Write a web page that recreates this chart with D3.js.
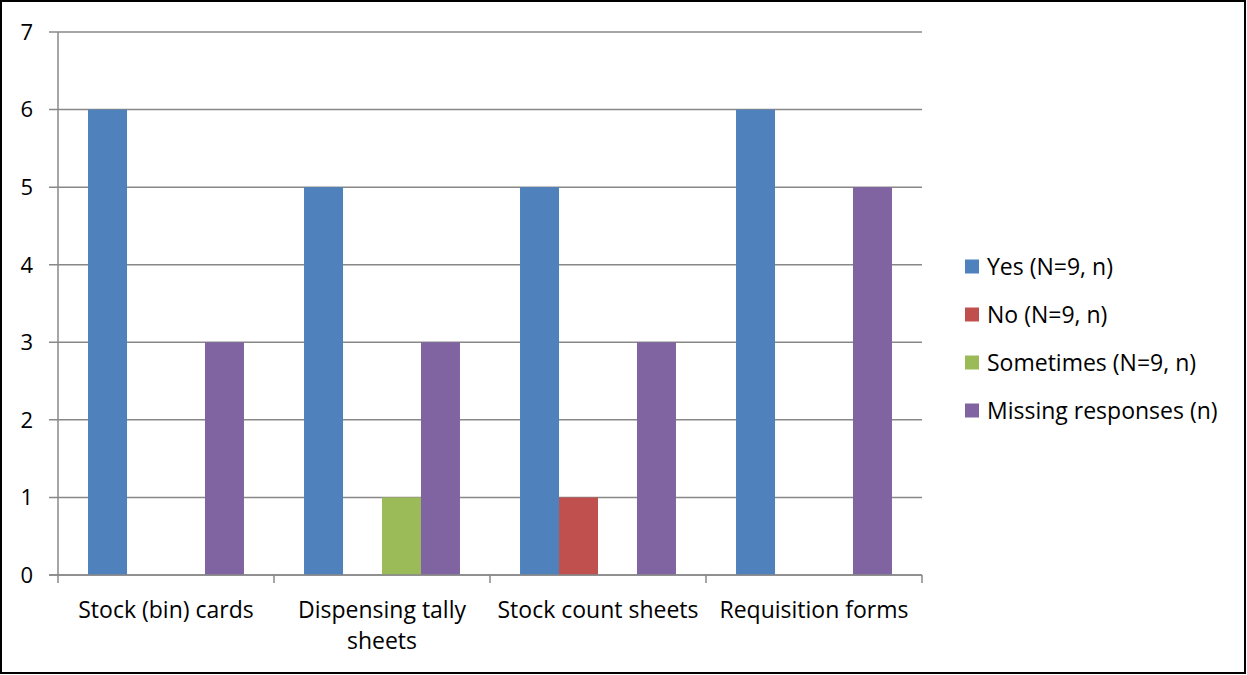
<!DOCTYPE html>
<html><head><meta charset="utf-8">
<script src="https://cdn.jsdelivr.net/npm/d3@7"></script>
<style>
html,body{margin:0;padding:0;background:#fff;}
svg{display:block;font-family:"Open Sans", Lato, sans-serif;}
</style></head>
<body>
<svg id="chart" width="1247" height="675"></svg>
<script>
const categories = ["Stock (bin) cards", "Dispensing tally sheets", "Stock count sheets", "Requisition forms"];
const seriesNames = ["Yes (N=9, n)", "No (N=9, n)", "Sometimes (N=9, n)", "Missing responses (n)"];
const yesValues = [6, 5, 5, 6];
const noValues = [0, 0, 1, 0];
const sometimesValues = [0, 1, 0, 0];
const missingValues = [3, 3, 3, 5];
const yTicks = [0, 1, 2, 3, 4, 5, 6, 7];
const seriesColors = ["#4F81BD", "#C0504D", "#9BBB59", "#8064A2"];

(function () {
const seriesValues = [yesValues, noValues, sometimesValues, missingValues];
const svg = d3.select("#chart");

svg.append("rect").attr("x", 1).attr("y", 1).attr("width", 1244).attr("height", 672)
  .attr("fill", "#fff").attr("stroke", "#000").attr("stroke-width", 2);

const pLeft = 58, pRight = 922, pTop = 32, pBottom = 575;
const x0 = d3.scaleBand().domain(categories).range([pLeft, pRight]).padding(0);
const bw = x0.bandwidth();
const x1 = d3.scaleBand().domain(seriesNames).range([bw * 0.139, bw * 0.861]).padding(0);
const y = d3.scaleLinear().domain([0, 7]).range([pBottom, pTop]);

const gridColor = "#888888";
svg.append("g").selectAll("line").data(yTicks).join("line")
  .attr("x1", pLeft - 9).attr("x2", pRight)
  .attr("y1", d => y(d)).attr("y2", d => y(d))
  .attr("stroke", gridColor).attr("stroke-width", 1.5);

svg.append("line").attr("x1", pLeft).attr("x2", pLeft).attr("y1", pTop).attr("y2", pBottom)
  .attr("stroke", gridColor).attr("stroke-width", 1.5);

svg.append("g").selectAll("text").data(yTicks).join("text")
  .attr("x", 33).attr("y", d => y(d)).attr("dy", "0.36em")
  .attr("text-anchor", "end").attr("font-size", 22).attr("fill", "#000")
  .text(d => d);

const groups = svg.append("g").selectAll("g").data(categories).join("g")
  .attr("transform", c => `translate(${x0(c)},0)`);
groups.selectAll("rect")
  .data((c, i) => seriesNames.map((s, j) => ({s, j, v: seriesValues[j][i]})))
  .join("rect")
  .attr("x", d => x1(d.s)).attr("width", x1.bandwidth())
  .attr("y", d => y(d.v)).attr("height", d => y(0) - y(d.v))
  .attr("fill", d => seriesColors[d.j]);

svg.append("line").attr("x1", pLeft - 9).attr("x2", pRight).attr("y1", pBottom).attr("y2", pBottom)
  .attr("stroke", gridColor).attr("stroke-width", 1.5);
const xTickPos = categories.map(c => x0(c)).concat([pRight]);
svg.append("g").selectAll("line").data(xTickPos).join("line")
  .attr("x1", d => d).attr("x2", d => d).attr("y1", pBottom).attr("y2", pBottom + 8)
  .attr("stroke", gridColor).attr("stroke-width", 1.5);

const maxW = bw - 8;
const xl = svg.append("g").selectAll("text").data(categories).join("text")
  .attr("x", c => x0(c) + bw / 2).attr("y", 618)
  .attr("text-anchor", "middle").attr("font-size", 23).attr("fill", "#000");
xl.each(function(c) {
  const t = d3.select(this);
  const words = c.split(" ");
  let lines = [], line = [];
  const tmp = t.append("tspan");
  words.forEach(w => {
    line.push(w);
    tmp.text(line.join(" "));
    if (tmp.node().getComputedTextLength() > maxW && line.length > 1) {
      line.pop(); lines.push(line.join(" ")); line = [w];
    }
  });
  lines.push(line.join(" "));
  tmp.remove();
  lines.forEach((l, i) => t.append("tspan").attr("x", x0(c) + bw / 2).attr("dy", i ? 31 : 0).text(l));
});

const lg = svg.append("g").selectAll("g").data(seriesNames).join("g")
  .attr("transform", (d, i) => `translate(965,${266.5 + i * 48})`);
lg.append("rect").attr("x", 0).attr("y", -7).attr("width", 14).attr("height", 14)
  .attr("fill", (d, i) => seriesColors[i]);
lg.append("text").attr("x", 22).attr("y", 0).attr("dy", "0.36em")
  .attr("font-size", 23).attr("fill", "#000").text(d => d);
})();
</script>
</body></html>
